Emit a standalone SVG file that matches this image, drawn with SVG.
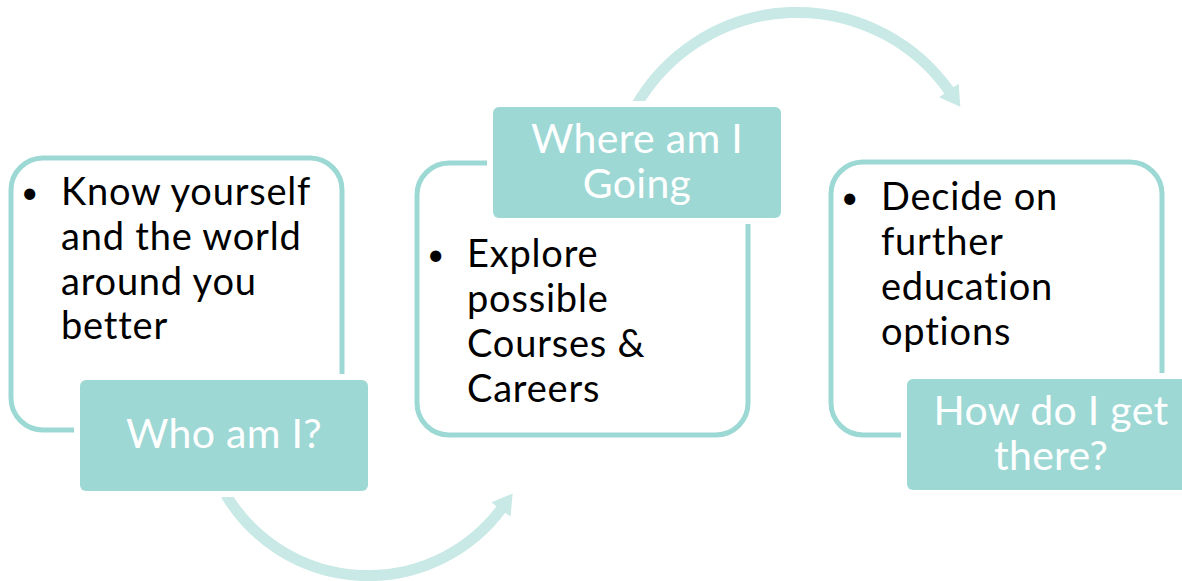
<svg xmlns="http://www.w3.org/2000/svg" width="1182" height="581" viewBox="0 0 1182 581">
<defs>
<style>
.frame{fill:#ffffff;stroke:#9dd9d4;stroke-width:5}
.halo{fill:#ffffff}
.label{fill:#9dd8d5}
.body{font-family:Lato,"Liberation Sans",sans-serif;font-size:38px;letter-spacing:0.8px;fill:#000000}
.bullet{font-family:Lato,"Liberation Sans",sans-serif;font-size:30px;fill:#000000}
.ltext{font-family:Lato,"Liberation Sans",sans-serif;font-size:41px;letter-spacing:0.3px;fill:#ffffff;text-anchor:middle}
.arc{fill:none;stroke:#c9e9e6;stroke-width:11}
</style>
<marker id="ah" markerUnits="userSpaceOnUse" markerWidth="30" markerHeight="30" refX="2" refY="12" orient="auto">
<path d="M0,0 L20,12 L0,24 Z" fill="#c9e9e6"/>
</marker>
</defs>
<rect width="1182" height="581" fill="#ffffff"/>
<g id="connectors">
<path class="arc" d="M226,495 A166,166 0 0 0 502,508" marker-end="url(#ah)"/>
<path class="arc" d="M636,106 A186,186 0 0 1 950,92" marker-end="url(#ah)"/>
</g>
<g id="node1">
<rect class="frame" x="11" y="158" width="331" height="272" rx="32"/>
<text class="bullet" x="21" y="203">•</text>
<text class="body"><tspan x="61" y="205">Know yourself</tspan><tspan x="61" y="250">and the world</tspan><tspan x="61" y="295">around you</tspan><tspan x="61" y="339">better</tspan></text>
<rect class="halo" x="74" y="374" width="300" height="123" rx="9"/>
<rect class="label" x="80" y="380" width="288" height="111" rx="6"/>
<text class="ltext" x="224" y="448">Who am I?</text>
</g>
<g id="node2">
<rect class="frame" x="417" y="163" width="331" height="272" rx="32"/>
<rect class="halo" x="487" y="101" width="300" height="123" rx="9"/>
<rect class="label" x="493" y="107" width="288" height="111" rx="6"/>
<text class="ltext"><tspan x="637" y="153">Where am I</tspan><tspan x="637" y="198">Going</tspan></text>
<text class="bullet" x="427" y="265">•</text>
<text class="body"><tspan x="467" y="267">Explore</tspan><tspan x="467" y="312">possible</tspan><tspan x="467" y="357">Courses &amp;</tspan><tspan x="467" y="402">Careers</tspan></text>
</g>
<g id="node3">
<rect class="frame" x="831" y="162" width="331" height="273" rx="32"/>
<text class="bullet" x="841" y="208">•</text>
<text class="body"><tspan x="881" y="210">Decide on</tspan><tspan x="881" y="255">further</tspan><tspan x="881" y="300">education</tspan><tspan x="881" y="345">options</tspan></text>
<rect class="halo" x="901" y="373" width="300" height="123" rx="9"/>
<rect class="label" x="907" y="379" width="288" height="111" rx="6"/>
<text class="ltext"><tspan x="1051" y="425">How do I get</tspan><tspan x="1051" y="470">there?</tspan></text>
</g>
</svg>
